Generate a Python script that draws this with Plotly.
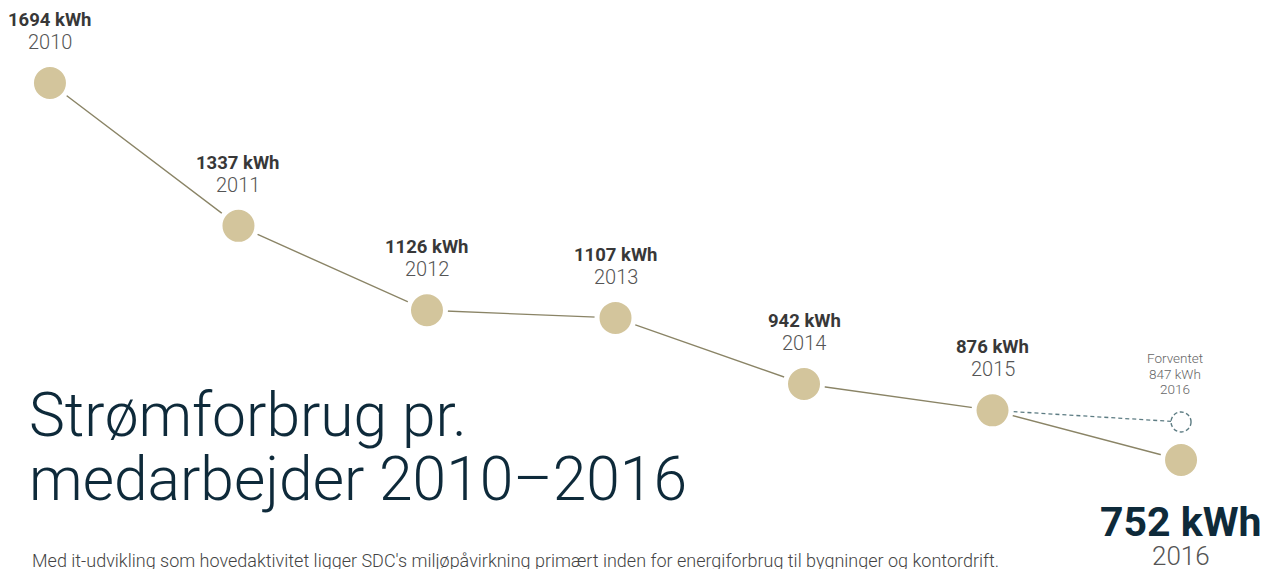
import plotly.graph_objects as go

years = [2010, 2011, 2012, 2013, 2014, 2015, 2016]
kwh = [1694, 1337, 1126, 1107, 942, 876, 752]
expected_label = "Forventet"
expected_year = 2016
expected_kwh = 847
title_lines = ["Strømforbrug pr.", "medarbejder 2010–2016"]
subtitle = ("Med it-udvikling som hovedaktivitet ligger SDC's miljøpåvirkning primært "
            "inden for energiforbrug til bygninger og kontordrift.")

W, H = 1267, 569
LINE = "#8a8466"
DOT = "#d3c59c"
DASH = "#5d7c83"
NAVY = "#0e2a3a"
FONT = "Roboto"

fig = go.Figure()
fig.add_trace(go.Scatter(
    x=[years[-2], expected_year], y=[kwh[-2], expected_kwh], mode="lines",
    line=dict(color=DASH, width=1.3, dash="4px,3px"), hoverinfo="skip", showlegend=False))
fig.add_trace(go.Scatter(
    x=years, y=kwh, mode="lines+markers",
    line=dict(color=LINE, width=1.4),
    marker=dict(size=37, color=DOT, line=dict(color="white", width=5)),
    showlegend=False))

fig.add_shape(type="circle", xref="x", yref="y", xsizemode="pixel", ysizemode="pixel",
              xanchor=expected_year, yanchor=expected_kwh, x0=-10, x1=10, y0=-10, y1=10,
              line=dict(color=DASH, width=1.4, dash="4px,2.5px"), fillcolor="white")

ann = []
for i, (yr, v) in enumerate(zip(years, kwh)):
    if i < len(years) - 1:
        ann.append(dict(x=yr, y=v, text=f"<b>{v} kWh</b>", showarrow=False, yshift=63,
                        font=dict(family=FONT, size=18.5, color="#383838", weight=700)))
        ann.append(dict(x=yr, y=v, text=str(yr), showarrow=False, yshift=41,
                        font=dict(family=FONT, size=20, color="#555555", weight=300)))
    else:
        ann.append(dict(x=yr, y=v, text=f"<b>{v} kWh</b>", showarrow=False, yshift=-62,
                        font=dict(family=FONT, size=41, color=NAVY, weight=900)))
        ann.append(dict(x=yr, y=v, text=str(yr), showarrow=False, yshift=-96,
                        font=dict(family=FONT, size=26, color="#555555", weight=300)))

for txt, sh in [(expected_label, 64), (f"{expected_kwh} kWh", 48), (str(expected_year), 33)]:
    ann.append(dict(x=expected_year - 0.03, y=expected_kwh, text=txt, showarrow=False, yshift=sh,
                    font=dict(family=FONT, size=13.5, color="#666666", weight=300)))

for txt, py in zip(title_lines, [415, 479]):
    ann.append(dict(xref="paper", yref="paper", x=27 / W, y=1 - py / H, xanchor="left",
                    yanchor="middle", text=txt, showarrow=False,
                    font=dict(family=FONT, size=60.5, color=NAVY, weight=300)))
ann.append(dict(xref="paper", yref="paper", x=30 / W, y=1 - 560 / H, xanchor="left",
                yanchor="middle", text=subtitle, showarrow=False,
                font=dict(family=FONT, size=18, color="#444444", weight=300)))

fig.update_layout(
    width=W, height=H, margin=dict(l=0, r=0, t=0, b=0),
    paper_bgcolor="white", plot_bgcolor="white",
    xaxis=dict(range=[2009.735, 2016.456], visible=False, fixedrange=True),
    yaxis=dict(range=[479.6, 1901.4], visible=False, fixedrange=True),
    annotations=ann, hovermode=False,
)
fig.write_html("out.html", config={"displayModeBar": False},
               post_script="document.body.style.margin='0';document.body.style.overflow='hidden';")
